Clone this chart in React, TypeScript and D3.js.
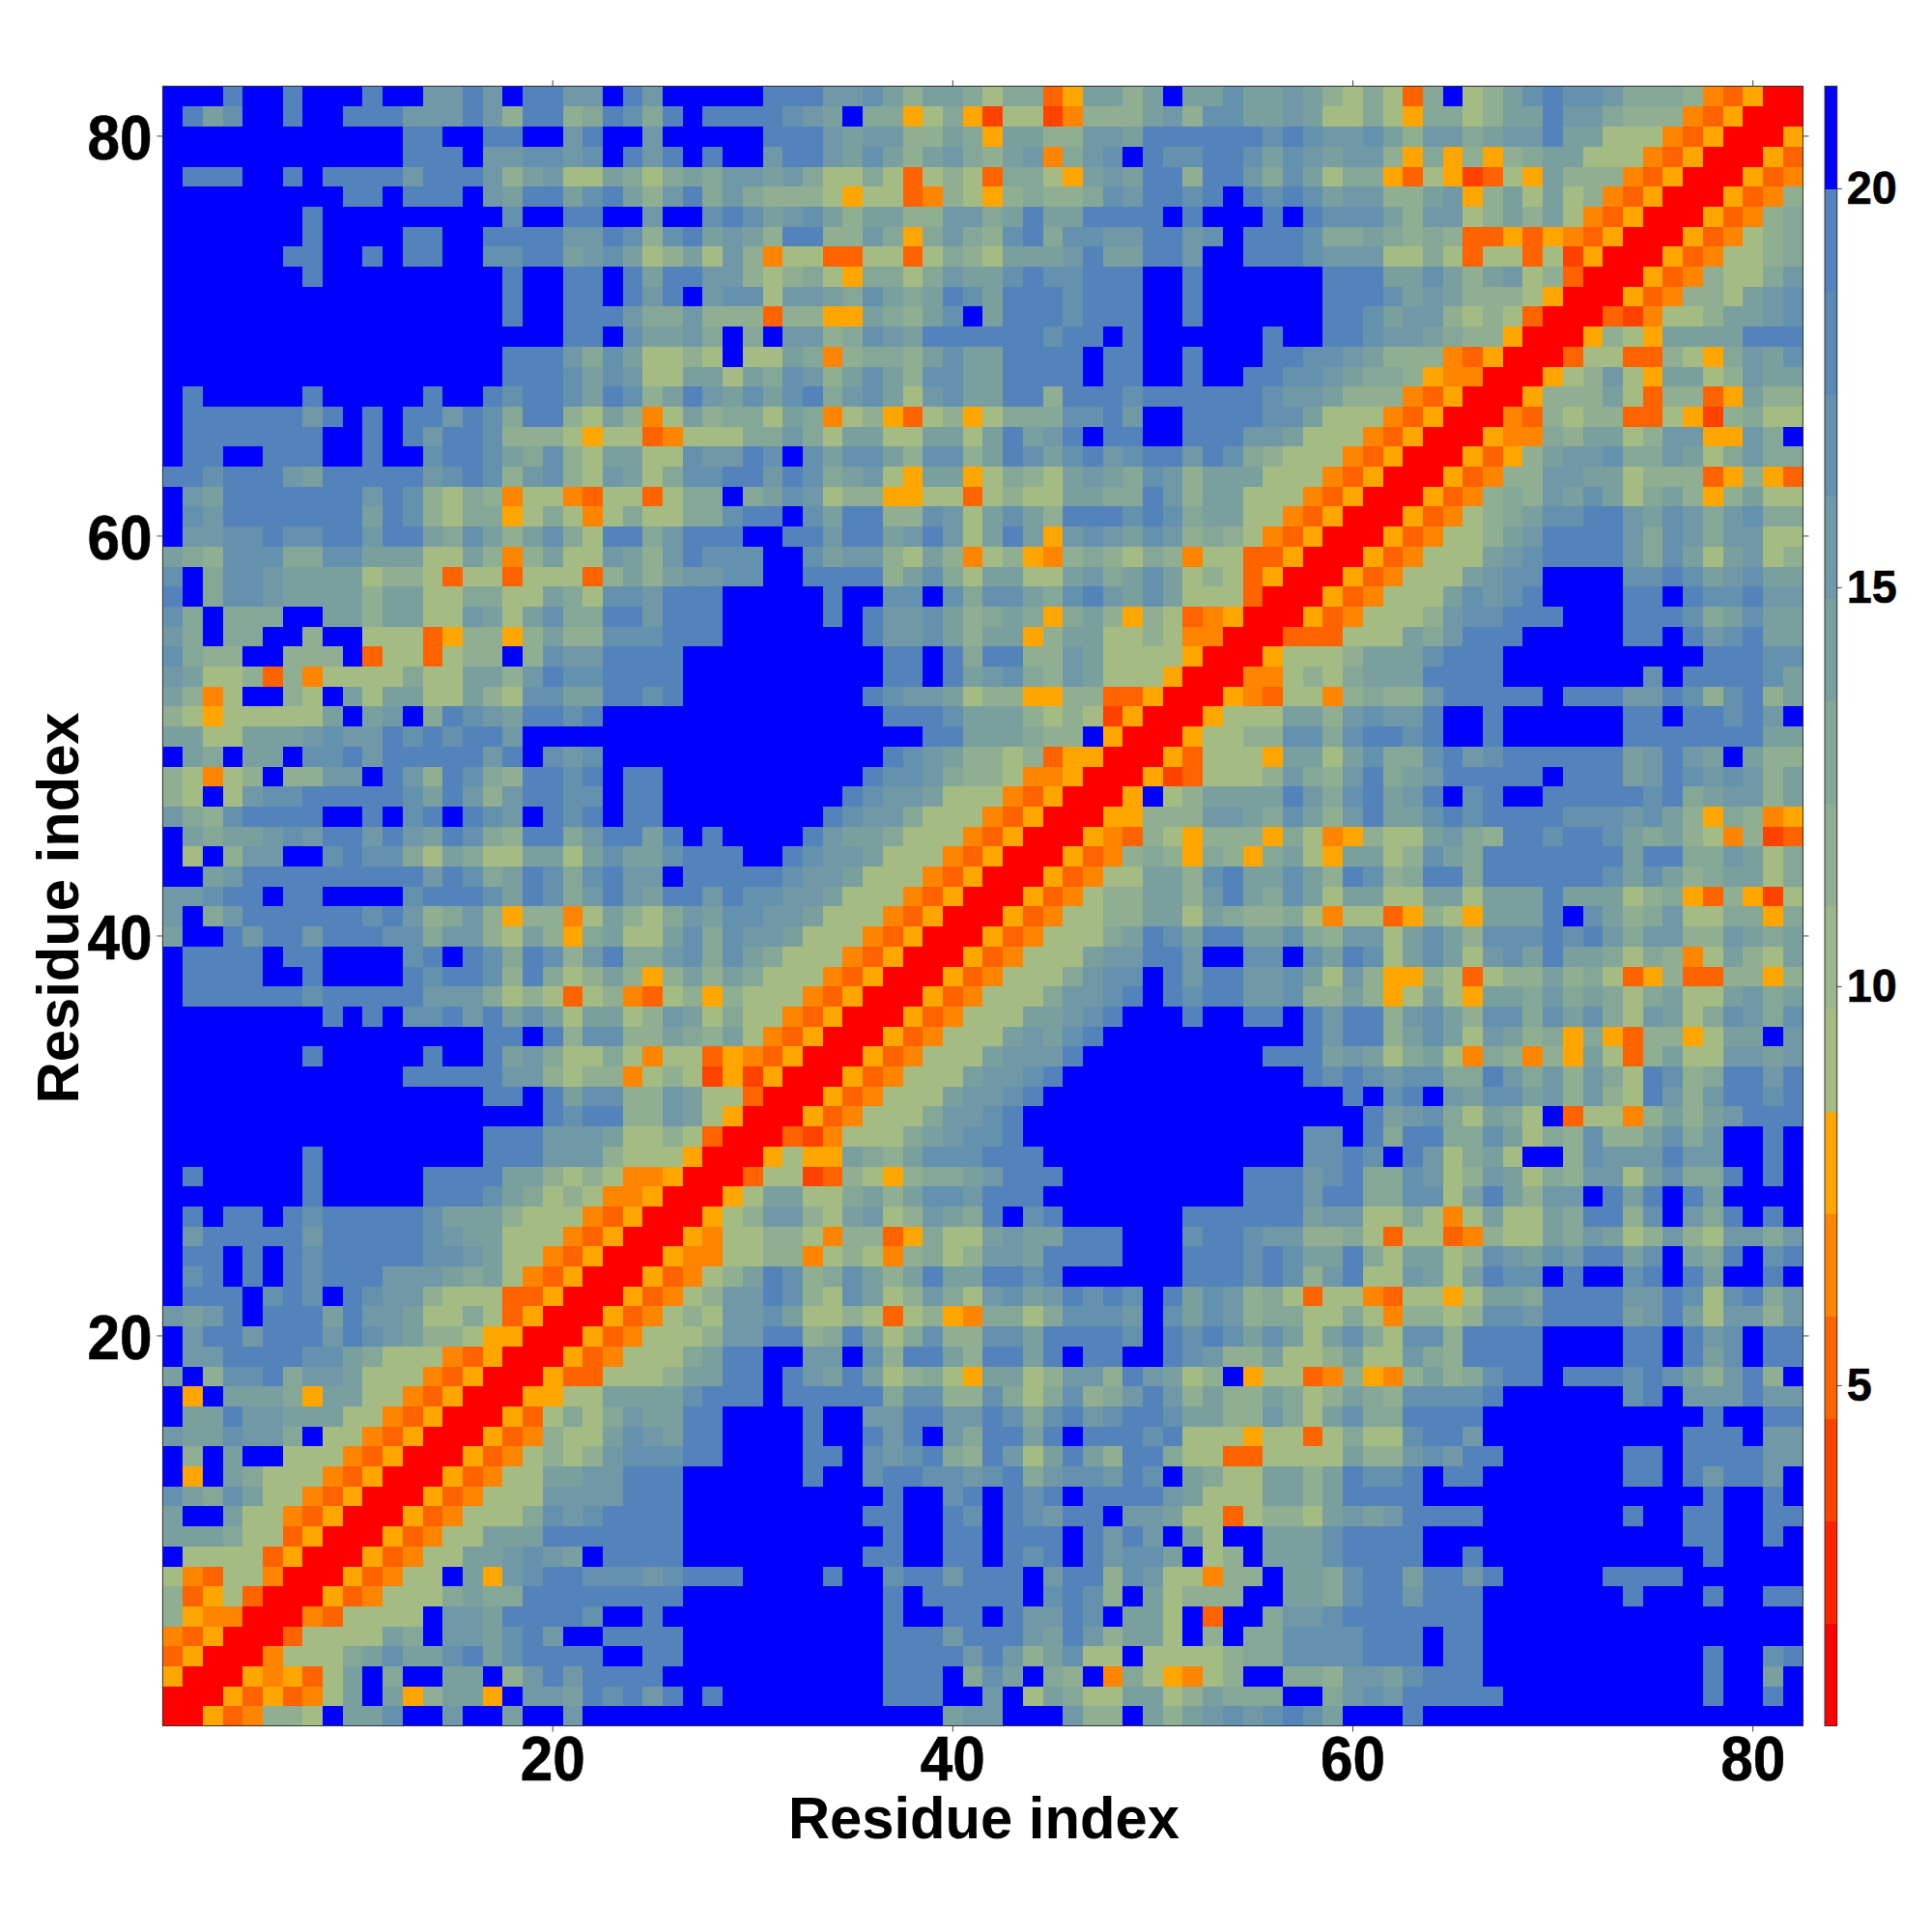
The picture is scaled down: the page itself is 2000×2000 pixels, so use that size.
import React, { useEffect, useRef } from 'react';
import * as d3 from 'd3';

// Mirror-symmetric map, so only the lower triangle is kept (one string per residue, top row is residue 82).
// Each hex digit is the colour read for a cell, spaces only split the string for reading.
const lowerTriangle = [
  'fffdffdfffdffbbdbfddbbfdbfff ffdddbbca8aa979935aa8afaac aaba879739f78acdccb999843500',
  'fdacffdffdddbbbdb8dd89dc9dfd dddcbaf99579527724888ab8cc aaba779759978aadbb988843500',
  'ffffffffffffddffddffbdffbfff ffdddbabb88a95aa88bbaddddd dcdcbbca8bb9abbdaa77743500',
  'ffffffffffffdddfbbccbcfdbdfd ffbddbaca8ab98ab49bcfdccdd cacbabb85958589aa77743500',
  'fdddffdfddddbdddb8ab77a979a9 bbab97797378739975abadd8dd b9ca79953752375a88843500',
  'fffffffffddfdddfbaddacda8bd9 b988875773487589889cbddcdf dcdcabb88ab58a7a7843500',
  'fffffffdfffffffffcffddffbffc dcabca8aa88bb9adaaddddfdff fdfdccca8bb78a8a743500',
  'fffffffdffffddffddddbbdc8cda ba8dd88b959b98cd9ccbbddbcf dddc99a98983353543500',
  'ffffffddffdfddffccddabca78a7 b8477337737987aaabdaaddbff dddcbbb7797377372500',
  'fffffffdfffffffffdffddfdaddb b8789759979baacdccdddffdff ffffdddaaca8ab78300',
  'fffffffffffffffffdffddfdbdfb cc7bba9ca9adcadddcdddffdff ffffdddcaba8887500',
  'fffffffffffffffffdffdddb99b8 8838855a98acfadddcdddffdff ffffddcabb8787300',
  'ffffffffffffffffffffddfcaab9 f9fbb89cbaddddddcddfdfffff fdffddcbba988500',
  'fffffffffffffffffdddb9ca7787 f77a948998acaaddddfddffdff fddccba88843500',
  'fffffffffffffffffdddcacb77aa 7a9cb8aca8ccaaddddfddffdff ddccba99854400',
  'fdfffffdfffffdffdcddcadc8adb acacd9bca7bcaadd8dddcddddd dcbba88843500',
  'fddddddbdfdfddbdc9dd87a847a8 997a9478537857999ccdbffddd dcca77743500',
  'fdddddddffdfdbddc88875773477 799b97aa77aa7adabdfddffddd bba77743500',
  'fddffdddffdffcddca9c87aa77cb bdcfcacca8cc8adcacdbcddbdc 9877743500',
  'ddcdddbadddddbcdc8bc87ba79cc ddbdc9ab75aa57987aba9cb8aa a77743500',
  'fbadddddddbdc879847743773799 f9acb788557737877aa99db8aa 77743500',
  'fcbdddddddadc879957974797799 cddfcadd88cb7aca8dddcdc9aa 7743500',
  'fbbccdccddbdda9ca8ac97dd9bdd dffddbddabdb7ada5bcbacb898 743500',
  'a98ccc99ccaaa77a848a77ba8bdc ccffcabb87a847854898798477 33500',
  'cf9ccbaaaa7887377377738a8abb ccffdddd8ac97aa77ab9aca787 3500',
  'df9ccbaaaa8aa779977a97ccbddd fffffdffccfc9cca9cdbaca777 300',
  'c9f999ffaa8aa77ba7ac99debddd fffffdfdbbca89a959a8587345 00',
  'b9f99ff8ff777358858a88cccddd fffffffdbbca8aa58aa7787440 0',
  'c988ff888f3773788f8cbbddddff ffffffffddfd9dd88ba7777500',
  'ba7783847777977aa8bdccddddff ffffffffddfdabc98ba777500',
  'a847ff87fa7aa77a87ccaaddcdff fffffffdcbba788558833500',
  '87577777afabf9dcbaddcdffffff ffffffffdddcaaa87872500',
  'aa77aaabcbbdcdcddbffffffffff ffffffffffddaaa988f500',
  'fa9faafccdbdddddbdfcbcffffff ffffffffdcba887835500',
  '87478f88bbfdb8dc98ddcdfddfff fffffffdccb988744500',
  '87f7bccdddddcadb8bddccfddfff ffffffdcbba77743500',
  'b98cddddffdfcdfdcbfdcdfddfff fffffdcbb977743500',
  'fa9aabcbddbdbadc98dd9bddadfd ffffdbaa977743500',
  'f7f8bbffcdcc97a977aa7acaacdd dffdcbba77743500',
  'ffabdddddddddbdc9adc9cdbbfdd dddcbba77743500',
  'bbcddfddffffcdddcadc9bdbaddb dccbba77743500',
  'bf9bddddddcdb89b858847a879ba ccbba77743500',
  'affdbddbdddcc9bb87a859a77ac9 cbba77743500',
  'fddddfddffffcdfdc9dc8bd99bc9 ca977743500',
  'fddddffdffffdcddc8d978a858a8 a977743500',
  'fddddddcdddddbbb978737843785 877743500',
  'ffffffffdfdfccdbdaca7aa78ba7 97743500',
  'ffffffffffffffffddfd8cc88a98 a743500',
  'fffffffdfffffdffdab977974773 543500',
  'ffffffffffffdddddbb878847872 52500',
  'ffffffffffffffffddfdacc88ba7 7300',
  'fffffffffffffffffffdcee88ba7 500',
  'ffffffffffffffffdddbbba77873 00',
  'fffffffdffffffffdddbbb877750 0',
  'fdfffffdfffffddddaa878744500',
  'fffffffdfffffdddca978744500',
  'fdfddfdcdddddcaaa877743500',
  'fbdddddbdddddcbaa77743500',
  'fddfdfdcdddddccba7743500',
  'fcdfdfdcdddbbba9a743500',
  'fdddfcdcfdcbb877733500',
  'babdfdddadbba77973500',
  'fbddbdddbdcba8875500',
  'fbbddddcca977743500',
  'af8ccd9bba77743500',
  'f5faaa95aa7743500',
  'faadbbaaa7743500',
  'baacbb9f7743500',
  'f8faff77743500',
  'f5fa977743500',
  'ca9ca7743500',
  'affa7743500',
  'aaa9773500',
  'f77773500',
  '74377400',
  '8357300',
  '854400',
  '43500',
  '3500',
  '500',
  '00',
  '0',
];

const residues = d3.range(1, 83);
const residueTicks = [20, 40, 60, 80];
const barTicks = [5, 10, 15, 20];
const valueRange: [number, number] = [0.73, 21.28];
const palette = [
  '#ff0000', '#ff2100', '#ff4200', '#ff6300', '#ff8400', '#ffa500',
  '#a4bc83', '#9ab68a', '#90ae91', '#85a798', '#7a9f9f', '#7098a6', '#6491ad', '#5a89b4', '#5383ba',
  '#0000ff',
];

const plot = { left: 168.4, right: 1866.4, top: 89.2, bottom: 1786.6 };
const bar = { left: 1889, right: 1901.7 };
const bold = '"Liberation Sans", Arial, sans-serif';

const App: React.FC = () => {
  const ref = useRef<SVGSVGElement | null>(null);

  useEffect(() => {
    const svg = d3.select(ref.current);
    svg.selectAll('*').remove();

    const rows = lowerTriangle.map(s => s.replace(/ /g, ''));
    const step = (valueRange[1] - valueRange[0]) / palette.length;
    // value of a cell, read back from its colour band ('7' and 'd' were the lightest sage and the plain steel)
    const valueAt = (col: number, row: number) => {
      const hi = Math.max(col, row);
      const lo = Math.min(col, row);
      const code = parseInt(rows[82 - hi][lo - 1], 16);
      const band = code === 7 ? 6 : code === 13 ? 14 : code;
      return valueRange[0] + (band + 0.5) * step;
    };

    const x = d3.scaleBand<number>().domain(residues).range([plot.left, plot.right]);
    const y = d3.scaleBand<number>().domain(residues).range([plot.bottom, plot.top]);
    const color = d3.scaleQuantize<string>().domain(valueRange).range(palette);
    const barY = d3.scaleLinear().domain(valueRange).range([plot.bottom, plot.top]);

    // Cells
    const cells = residues.flatMap(row => residues.map(col => ({ col, row, value: valueAt(col, row) })));
    svg.append('g')
      .attr('shape-rendering', 'crispEdges')
      .selectAll('rect')
      .data(cells)
      .enter()
      .append('rect')
      .attr('x', d => x(d.col)!)
      .attr('y', d => y(d.row)!)
      .attr('width', x.bandwidth() + 0.5)
      .attr('height', y.bandwidth() + 0.5)
      .attr('fill', d => color(d.value));

    // Frame
    svg.append('rect')
      .attr('x', plot.left)
      .attr('y', plot.top)
      .attr('width', plot.right - plot.left)
      .attr('height', plot.bottom - plot.top)
      .attr('fill', 'none')
      .attr('stroke', '#333')
      .attr('stroke-width', 1);

    // The reference glyphs are a bit taller than wide, so a larger size is squeezed back with textLength
    const styleAxis = (g: any, size: number, perDigit: number) => {
      g.select('.domain').remove();
      g.selectAll('line').attr('stroke', '#444').attr('stroke-width', 1);
      g.selectAll('text')
        .attr('fill', '#000')
        .attr('font-family', bold)
        .attr('font-weight', 'bold')
        .attr('font-size', size)
        .attr('stroke', '#000')
        .attr('stroke-width', 0.6)
        .attr('lengthAdjust', 'spacingAndGlyphs')
        .attr('textLength', (d: number) => String(d).length * perDigit);
    };
    svg.append('g')
      .attr('transform', `translate(0,${plot.bottom})`)
      .call(d3.axisBottom(x).tickValues(residueTicks).tickSize(6) as any)
      .call(styleAxis, 64, 33.5)
      .selectAll('text')
      .attr('y', 56)
      .attr('dy', 0);
    svg.append('g')
      .attr('transform', `translate(${plot.left},0)`)
      .call(d3.axisLeft(y).tickValues(residueTicks).tickSize(6).tickPadding(5) as any)
      .call(styleAxis, 64, 33.5)
      .selectAll('text')
      .attr('dy', '0.37em');
    svg.append('g')
      .attr('transform', `translate(0,${plot.top})`)
      .call(d3.axisTop(x).tickValues(residueTicks).tickSize(6).tickFormat(() => '') as any)
      .call(styleAxis, 64, 33.5);
    svg.append('g')
      .attr('transform', `translate(${plot.right},0)`)
      .call(d3.axisRight(y).tickValues(residueTicks).tickSize(6).tickFormat(() => '') as any)
      .call(styleAxis, 64, 33.5);

    // Axis titles
    svg.append('text')
      .attr('x', (plot.left + plot.right) / 2 + 1)
      .attr('y', 1903)
      .attr('text-anchor', 'middle')
      .attr('font-family', bold)
      .attr('font-weight', 'bold')
      .attr('font-size', 62)
      .attr('lengthAdjust', 'spacingAndGlyphs')
      .attr('textLength', 405)
      .text('Residue index');
    svg.append('text')
      .attr('transform', `translate(81,${(plot.top + plot.bottom) / 2 + 2}) rotate(-90)`)
      .attr('text-anchor', 'middle')
      .attr('font-family', bold)
      .attr('font-weight', 'bold')
      .attr('font-size', 62)
      .attr('lengthAdjust', 'spacingAndGlyphs')
      .attr('textLength', 405)
      .text('Residue index');

    // Colour bar
    svg.append('g')
      .attr('shape-rendering', 'crispEdges')
      .selectAll('rect')
      .data(palette)
      .enter()
      .append('rect')
      .attr('x', bar.left)
      .attr('y', (_, i) => barY(valueRange[0] + (i + 1) * step))
      .attr('width', bar.right - bar.left)
      .attr('height', barY(valueRange[0]) - barY(valueRange[0] + step) + 0.5)
      .attr('fill', d => d);
    svg.append('rect')
      .attr('x', bar.left)
      .attr('y', plot.top)
      .attr('width', bar.right - bar.left)
      .attr('height', plot.bottom - plot.top)
      .attr('fill', 'none')
      .attr('stroke', '#333')
      .attr('stroke-width', 1);
    svg.append('g')
      .attr('transform', `translate(${bar.right},0)`)
      .call(d3.axisRight(barY).tickValues(barTicks).tickSize(5).tickPadding(5).tickFormat(d3.format('d')) as any)
      .call(styleAxis, 49, 26);
  }, []);

  return (
    <svg
      ref={ref}
      width={2000}
      height={2000}
      style={{ position: 'absolute', left: 0, top: 0, background: '#fff' }}
    />
  );
};

export default App;
